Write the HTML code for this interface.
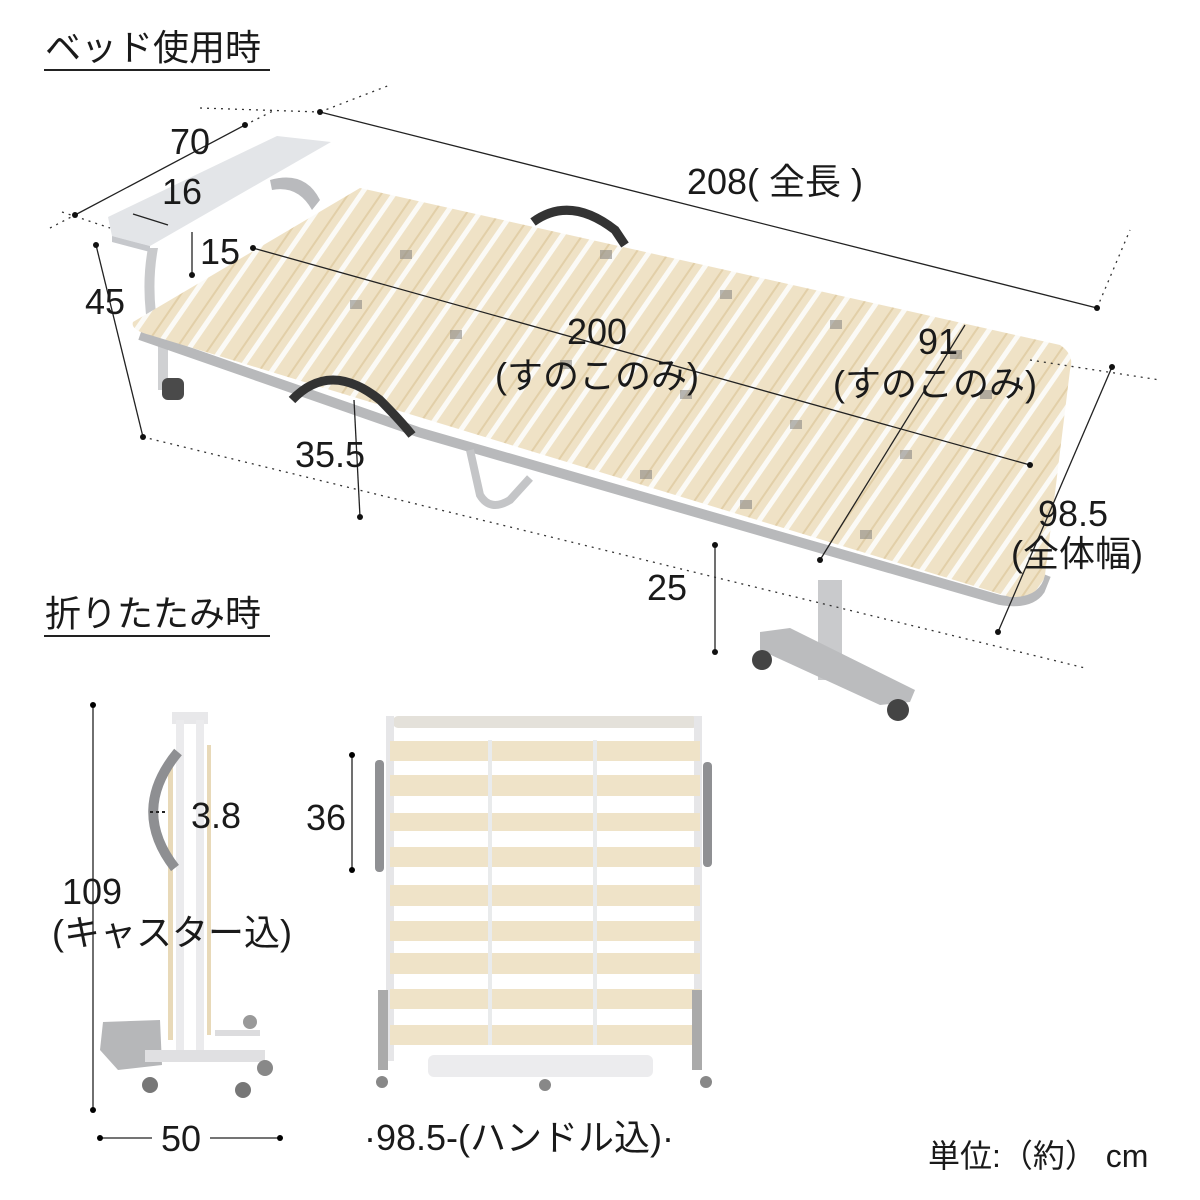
<!DOCTYPE html>
<html><head><meta charset="utf-8"><style>
html,body{margin:0;padding:0;background:#fff}
svg{display:block}
text{font-family:"Liberation Sans","Noto Sans CJK JP",sans-serif;fill:#1a1a1a}
</style></head><body>
<svg width="1200" height="1200" viewBox="0 0 1200 1200" xmlns="http://www.w3.org/2000/svg">
<defs>
<pattern id="sl" width="27" height="40" patternUnits="userSpaceOnUse" patternTransform="rotate(34.6)">
<rect width="27" height="40" fill="#efe2c6"/>
<rect x="0" width="5" height="40" fill="#fbfaf6"/>
<rect x="18" width="2" height="40" fill="#e2cfa8"/>
</pattern>
</defs>
<!-- headings -->
<text x="45" y="60" font-size="36">ベッド使用時</text>
<line x1="44" y1="70" x2="270" y2="70" stroke="#222" stroke-width="2"/>
<text x="45" y="626" font-size="36">折りたたみ時</text>
<line x1="44" y1="636" x2="270" y2="636" stroke="#222" stroke-width="2"/>

<!-- headboard -->
<path d="M148 248 Q140 290 150 340 L160 340 Q150 290 158 248 Z" fill="#c9cacc"/>
<path d="M270 180 Q305 170 320 200 L312 210 Q298 185 272 190 Z" fill="#b9babd"/>
<polygon points="108,217 277,136 331,142 150,246 112,236" fill="#e3e5e8"/>
<polygon points="112,236 150,246 150,252 112,242" fill="#c6c8cc"/>
<!-- left leg -->
<rect x="158" y="330" width="10" height="60" fill="#cfd0d2"/>
<rect x="162" y="378" width="22" height="22" rx="6" fill="#4a4a4a"/>
<!-- bed surface -->
<path d="M140,335 L418,432 L1000,600 Q1030,605 1040,590 L1046,575" stroke="#b8b9bb" stroke-width="10" fill="none"/>
<path d="M133,322 L360,188 L1060,345 Q1075,355 1070,370 L1045,575 Q1040,598 1010,597 L150,335 Q130,330 133,322 Z" fill="url(#sl)"/>
<g fill="#8a8884" opacity="0.6">
<rect x="450" y="330" width="12" height="9"/><rect x="560" y="360" width="12" height="9"/><rect x="680" y="390" width="12" height="9"/>
<rect x="790" y="420" width="12" height="9"/><rect x="900" y="450" width="12" height="9"/><rect x="600" y="250" width="12" height="9"/>
<rect x="720" y="290" width="12" height="9"/><rect x="830" y="320" width="12" height="9"/><rect x="950" y="350" width="12" height="9"/>
<rect x="350" y="300" width="12" height="9"/><rect x="400" y="250" width="12" height="9"/><rect x="740" y="500" width="12" height="9"/>
<rect x="860" y="530" width="12" height="9"/><rect x="640" y="470" width="12" height="9"/><rect x="980" y="390" width="12" height="9"/>
</g>
<!-- handles -->
<path d="M292 400 Q330 360 380 400 Q400 420 412 435" stroke="#333" stroke-width="9" fill="none"/>
<path d="M533 222 Q570 195 615 230 L625 245" stroke="#333" stroke-width="9" fill="none"/>
<!-- middle folding leg -->
<path d="M470 450 L480 495 Q490 512 510 500 L530 478" stroke="#c4c5c7" stroke-width="8" fill="none"/>
<!-- right T leg -->
<rect x="818" y="580" width="24" height="100" fill="#c9cacc"/>
<polygon points="760,632 790,628 915,690 910,702 880,705 760,650" fill="#bbbcbe"/>
<circle cx="762" cy="660" r="10" fill="#444"/>
<circle cx="898" cy="710" r="11" fill="#444"/>

<!-- dimension lines top -->
<g stroke="#222" stroke-width="1.3" fill="none">
<line x1="75" y1="215" x2="245" y2="125"/>
<line x1="133" y1="214" x2="168" y2="225"/>
<line x1="192" y1="232" x2="192" y2="275"/>
<line x1="96" y1="245" x2="143" y2="437"/>
<line x1="320" y1="112" x2="1097" y2="308"/>
<line x1="253" y1="248" x2="1030" y2="465"/>
<line x1="965" y1="325" x2="820" y2="560"/>
<line x1="354" y1="400" x2="360" y2="517"/>
<line x1="715" y1="545" x2="715" y2="652"/>
<line x1="1112" y1="367" x2="998" y2="632"/>
</g>
<g stroke="#333" stroke-width="1.3" stroke-dasharray="2 5" fill="none">
<line x1="50" y1="228" x2="75" y2="215"/>
<line x1="245" y1="125" x2="275" y2="110"/>
<line x1="200" y1="108" x2="320" y2="112"/>
<line x1="320" y1="112" x2="390" y2="85"/>
<line x1="1097" y1="308" x2="1130" y2="230"/>
<line x1="143" y1="437" x2="1085" y2="668"/>
<line x1="1030" y1="360" x2="1160" y2="380"/>
<line x1="62" y1="212" x2="110" y2="228"/>
</g>
<g fill="#111">
<circle cx="75" cy="215" r="3"/><circle cx="245" cy="125" r="3"/><circle cx="320" cy="112" r="3"/><circle cx="1097" cy="308" r="3"/>
<circle cx="96" cy="245" r="3"/><circle cx="143" cy="437" r="3"/><circle cx="253" cy="248" r="3"/><circle cx="1030" cy="465" r="3"/>
<circle cx="360" cy="517" r="3"/><circle cx="715" cy="545" r="3"/><circle cx="715" cy="652" r="3"/><circle cx="1112" cy="367" r="3"/>
<circle cx="998" cy="632" r="3"/><circle cx="192" cy="275" r="3"/><circle cx="820" cy="560" r="3"/>
</g>
<g font-size="36" text-anchor="middle">
<text x="190" y="154">70</text>
<text x="182" y="204">16</text>
<text x="220" y="264">15</text>
<text x="105" y="314">45</text>
<text x="775" y="194">208( 全長 )</text>
<text x="597" y="344">200</text>
<text x="597" y="388">(すのこのみ)</text>
<text x="938" y="354">91</text>
<text x="935" y="396">(すのこのみ)</text>
<text x="330" y="467">35.5</text>
<text x="667" y="600">25</text>
<text x="1073" y="526">98.5</text>
<text x="1077" y="566">(全体幅)</text>
</g>

<!-- folded side view -->
<rect x="172" y="712" width="36" height="12" fill="#e8e8ea"/>
<rect x="176" y="720" width="8" height="335" fill="#ebebed"/>
<rect x="196" y="720" width="8" height="335" fill="#ebebed"/>
<rect x="168" y="760" width="5" height="280" fill="#e8d9b8"/>
<rect x="207" y="745" width="4" height="290" fill="#e8d9b8"/>
<path d="M178 752 Q130 810 175 868" stroke="#8e8f92" stroke-width="10" fill="none"/>
<polygon points="103,1022 160,1020 162,1065 118,1070 100,1050" fill="#b6b7b9"/>
<rect x="145" y="1050" width="120" height="12" fill="#e0e0e2"/>
<rect x="215" y="1030" width="45" height="6" fill="#dcdcde"/>
<circle cx="150" cy="1085" r="8" fill="#777"/><circle cx="243" cy="1090" r="8" fill="#777"/><circle cx="265" cy="1068" r="8" fill="#888"/><circle cx="250" cy="1022" r="7" fill="#999"/>
<line x1="93" y1="705" x2="93" y2="1110" stroke="#222" stroke-width="1.3"/>
<circle cx="93" cy="705" r="3"/><circle cx="93" cy="1110" r="3"/>
<line x1="100" y1="1138" x2="152" y2="1138" stroke="#222" stroke-width="1.3"/>
<line x1="210" y1="1138" x2="280" y2="1138" stroke="#222" stroke-width="1.3"/>
<circle cx="100" cy="1138" r="3"/><circle cx="280" cy="1138" r="3"/>
<line x1="150" y1="812" x2="166" y2="812" stroke="#222" stroke-width="2" stroke-dasharray="3 3"/>
<g font-size="36" text-anchor="middle">
<text x="216" y="828">3.8</text>
<text x="92" y="904">109</text>
<text x="172" y="945">(キャスター込)</text>
<text x="181" y="1151">50</text>
</g>

<!-- folded front view -->
<rect x="393" y="716" width="305" height="12" rx="5" fill="#e4e1da"/>
<rect x="386" y="716" width="8" height="345" fill="#e6e6e8"/>
<rect x="694" y="716" width="8" height="345" fill="#e6e6e8"/>
<rect x="375" y="760" width="9" height="112" rx="4" fill="#8f9093"/>
<rect x="703" y="762" width="9" height="105" rx="4" fill="#8f9093"/>
<g fill="#efe3c8">
<rect x="390" y="741" width="310" height="20"/><rect x="390" y="775" width="310" height="21"/>
<rect x="390" y="813" width="310" height="18"/><rect x="390" y="847" width="310" height="20"/>
<rect x="390" y="885" width="310" height="21"/><rect x="390" y="921" width="310" height="20"/>
<rect x="390" y="953" width="310" height="21"/><rect x="390" y="989" width="310" height="20"/>
<rect x="390" y="1025" width="310" height="20"/>
</g>
<g stroke="#e9ebec" stroke-width="4">
<line x1="490" y1="740" x2="490" y2="1045"/><line x1="595" y1="740" x2="595" y2="1045"/>
</g>
<rect x="428" y="1055" width="225" height="22" rx="6" fill="#ececee"/>
<rect x="378" y="990" width="10" height="80" fill="#aaa"/><rect x="692" y="990" width="10" height="80" fill="#aaa"/>
<circle cx="382" cy="1082" r="6" fill="#888"/><circle cx="706" cy="1082" r="6" fill="#888"/><circle cx="545" cy="1085" r="6" fill="#888"/>
<line x1="352" y1="755" x2="352" y2="870" stroke="#222" stroke-width="1.3"/>
<circle cx="352" cy="755" r="3"/><circle cx="352" cy="870" r="3"/>
<g font-size="36">
<text x="306" y="830">36</text>
<text x="364" y="1150">·98.5-(ハンドル込)·</text>
</g>
<text x="928" y="1167" font-size="32">単位:（約） cm</text>
</svg>
</body></html>
